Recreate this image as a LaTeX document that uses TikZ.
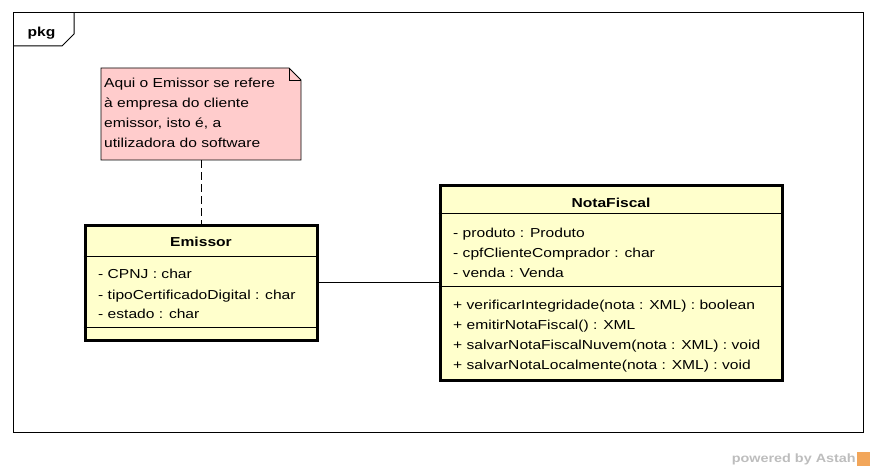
\documentclass[tikz,border=0pt]{standalone}
\usepackage{fontspec}
\setmainfont[FakeStretch=1.2]{Liberation Sans}
\usetikzlibrary{positioning}
\definecolor{classfill}{HTML}{FFFFCC}
\definecolor{notefill}{HTML}{FFCCCC}
\definecolor{logogray}{HTML}{BDBDBD}
\definecolor{logoorange}{HTML}{F2A65A}

\begin{document}
\begin{tikzpicture}[x=1pt, y=-1pt,
        every node/.style={inner sep=0pt, font=\fontsize{13}{20}\selectfont},
        classbox/.style={rectangle, draw, line width=3pt, fill=classfill},
        title/.style={anchor=base, font=\fontsize{13}{20}\selectfont\bfseries},
        member/.style={anchor=base west},
        sep/.style={line width=1pt}]
            \useasboundingbox (0,0) rectangle (876,473);

            % package frame
            \draw[line width=1pt] (13,13) rectangle (863,432);
            \draw[line width=1pt] (13,46) -- (62,46) -- (74,34) -- (74,13);
            \node[title] (pkg) at (41.5,37) {pkg};

            % note
            \draw[line width=0.8pt, fill=notefill] (101,68) -- (289,68) -- (301,80) -- (301,160) -- (101,160) -- cycle;
            \draw[line width=0.8pt] (289,68) -- (289,80) -- (301,80);
            \node[minimum width=200, minimum height=92] (note) at (201,114) {};
            \foreach \t [count=\i] in {Aqui o Emissor se refere, à empresa do cliente, {emissor, isto é, a}, utilizadora do software}
                \node[member] (note\i) at (104,68+20*\i) {\t};

            % Emissor
            \node[classbox, minimum width=232, minimum height=114] (emissor) at (201,283) {};
            \draw[sep] (emissor.west |- 0,257) -- (emissor.east |- 0,257);
            \draw[sep] (emissor.west |- 0,327) -- (emissor.east |- 0,327);
            \node[title] (emissor-name) at (201,247) {Emissor};
            \foreach \t [count=\i] in {- CPNJ : char, - tipoCertificadoDigital : char, - estado : char}
                \node[member] (emissor-a\i) at (98,259+20*\i) {\t};

            % NotaFiscal
            \node[classbox, minimum width=342, minimum height=194] (notafiscal) at (611,283) {};
            \draw[sep] (notafiscal.west |- 0,214) -- (notafiscal.east |- 0,214);
            \draw[sep] (notafiscal.west |- 0,287) -- (notafiscal.east |- 0,287);
            \node[title] (notafiscal-name) at (611,208) {NotaFiscal};
            \foreach \t [count=\i] in {- produto : Produto, - cpfClienteComprador : char, - venda : Venda}
                \node[member] (notafiscal-a\i) at (453,218+20*\i) {\t};
            \foreach \t [count=\i] in {+ verificarIntegridade(nota : XML) : boolean, + emitirNotaFiscal() : XML, + salvarNotaFiscalNuvem(nota : XML) : void, + salvarNotaLocalmente(nota : XML) : void}
                \node[member] (notafiscal-m\i) at (453,289+20*\i) {\t};

            % connectors
            \draw[line width=0.8pt, dash pattern=on 8pt off 4pt] (note) -- (emissor);
            \draw[line width=1pt] (emissor) -- (notafiscal);

            % logo
            \node[anchor=base east, text=logogray, font=\fontsize{12}{14}\selectfont\bfseries] (powered) at (856,462) {powered by Astah};
            \node[fill=logoorange, minimum width=13, minimum height=14, right=1pt of powered.east, anchor=west] (astah) {};
        \end{tikzpicture}
\end{document}
